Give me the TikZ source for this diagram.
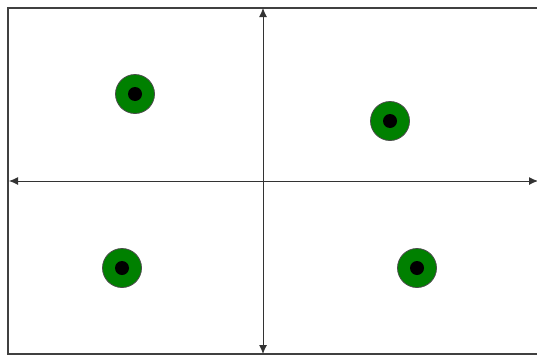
\documentclass[tikz,border=0pt]{standalone}
\usetikzlibrary{arrows.meta}
\begin{document}
\begin{tikzpicture}[x=1pt,y=-1pt,
  frame/.style={draw=black!75, line width=1.1pt},
  axis/.style={draw=black!80, line width=0.9pt, {Latex[length=9pt,width=8pt]}-{Latex[length=9pt,width=8pt]}},
  dot/.style={circle, draw=black!70, fill=green!50!black, minimum size=39pt, inner sep=0pt, line width=0.8pt},
  pupil/.style={circle, fill=black, minimum size=14pt, inner sep=0pt}]
\useasboundingbox (0,0) rectangle (537,356);
\path[frame] (537,8) -- (8,8) -- (8,354) -- (537,354);
\coordinate (L) at (9,181);
\coordinate (R) at (538,181);
\coordinate (T) at (263,8);
\coordinate (B) at (263,354);
\draw[axis] (L) -- (R);
\draw[axis] (T) -- (B);
\node[dot] (c1) at (135,94) {};
\node[pupil] (p1) at (c1) {};
\node[dot] (c2) at (390,121) {};
\node[pupil] (p2) at (c2) {};
\node[dot] (c3) at (122,268) {};
\node[pupil] (p3) at (c3) {};
\node[dot] (c4) at (417,268) {};
\node[pupil] (p4) at (c4) {};
\end{tikzpicture}
\end{document}
